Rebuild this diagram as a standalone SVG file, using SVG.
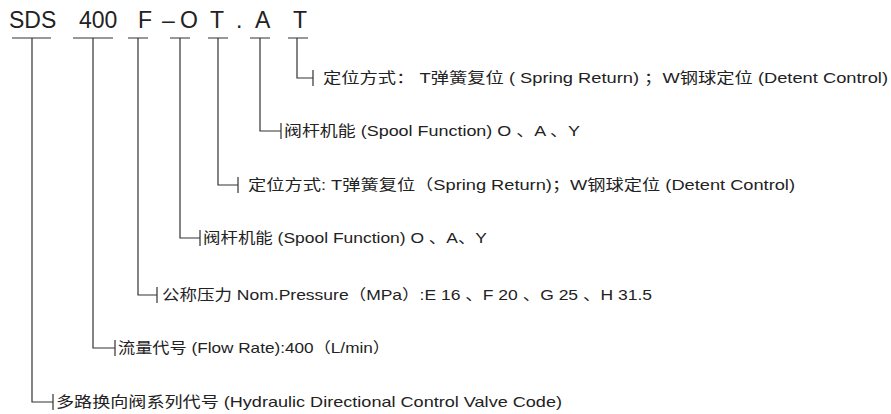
<svg xmlns="http://www.w3.org/2000/svg" width="891" height="414" viewBox="0 0 891 414">
<style>
.code{font-family:"Liberation Sans","Noto Sans CJK SC",sans-serif;font-size:23px;fill:#222}
.lbl{font-family:"Liberation Sans","Noto Sans CJK SC",sans-serif;font-size:15px;fill:#222}
.ln{stroke:#333;stroke-width:1.2;fill:none}
</style>
<rect width="891" height="414" fill="#fff"/>
<g id="code">
<text class="code" y="28"><tspan x="9">SDS</tspan><tspan x="79">400</tspan><tspan x="138">F</tspan><tspan x="162">–</tspan><tspan x="180">O</tspan><tspan x="210">T</tspan><tspan x="236">.</tspan><tspan x="255">A</tspan><tspan x="293">T</tspan></text>
</g>
<g id="connectors">
<path class="ln" d="M12 38H51M32 38V402H53M53 394V410"/>
<path class="ln" d="M73 38H113M93 38V348H115M115 340V356"/>
<path class="ln" d="M128 38H148M138 38V295H157M157 287V303"/>
<path class="ln" d="M170 38H190M180 38V238H200M200 230V246"/>
<path class="ln" d="M208 38H228M218 38V185H238M238 177V193"/>
<path class="ln" d="M250 38H270M260 38V131H281M281 123V139"/>
<path class="ln" d="M288 38H308M297 38V78H313M313 70V86"/>
</g>
<g id="n1"><text class="lbl" x="323" y="83" textLength="565" lengthAdjust="spacingAndGlyphs">定位方式： T弹簧复位 ( Spring Return) ；W钢球定位 (Detent Control)</text></g>
<g id="n2"><text class="lbl" x="284" y="136" textLength="296" lengthAdjust="spacingAndGlyphs">阀杆机能 (Spool Function) O 、A 、Y</text></g>
<g id="n3"><text class="lbl" x="248" y="190" textLength="547" lengthAdjust="spacingAndGlyphs">定位方式: T弹簧复位（Spring Return)；W钢球定位 (Detent Control)</text></g>
<g id="n4"><text class="lbl" x="203" y="243" textLength="284" lengthAdjust="spacingAndGlyphs">阀杆机能 (Spool Function) O 、A、Y</text></g>
<g id="n5"><text class="lbl" x="162" y="300" textLength="490" lengthAdjust="spacingAndGlyphs">公称压力 Nom.Pressure（MPa）:E 16 、F 20 、G 25 、H 31.5</text></g>
<g id="n6"><text class="lbl" x="118" y="353" textLength="272" lengthAdjust="spacingAndGlyphs">流量代号 (Flow Rate):400（L/min）</text></g>
<g id="n7"><text class="lbl" x="56" y="407" textLength="506" lengthAdjust="spacingAndGlyphs">多路换向阀系列代号 (Hydraulic Directional Control Valve Code)</text></g>
</svg>
